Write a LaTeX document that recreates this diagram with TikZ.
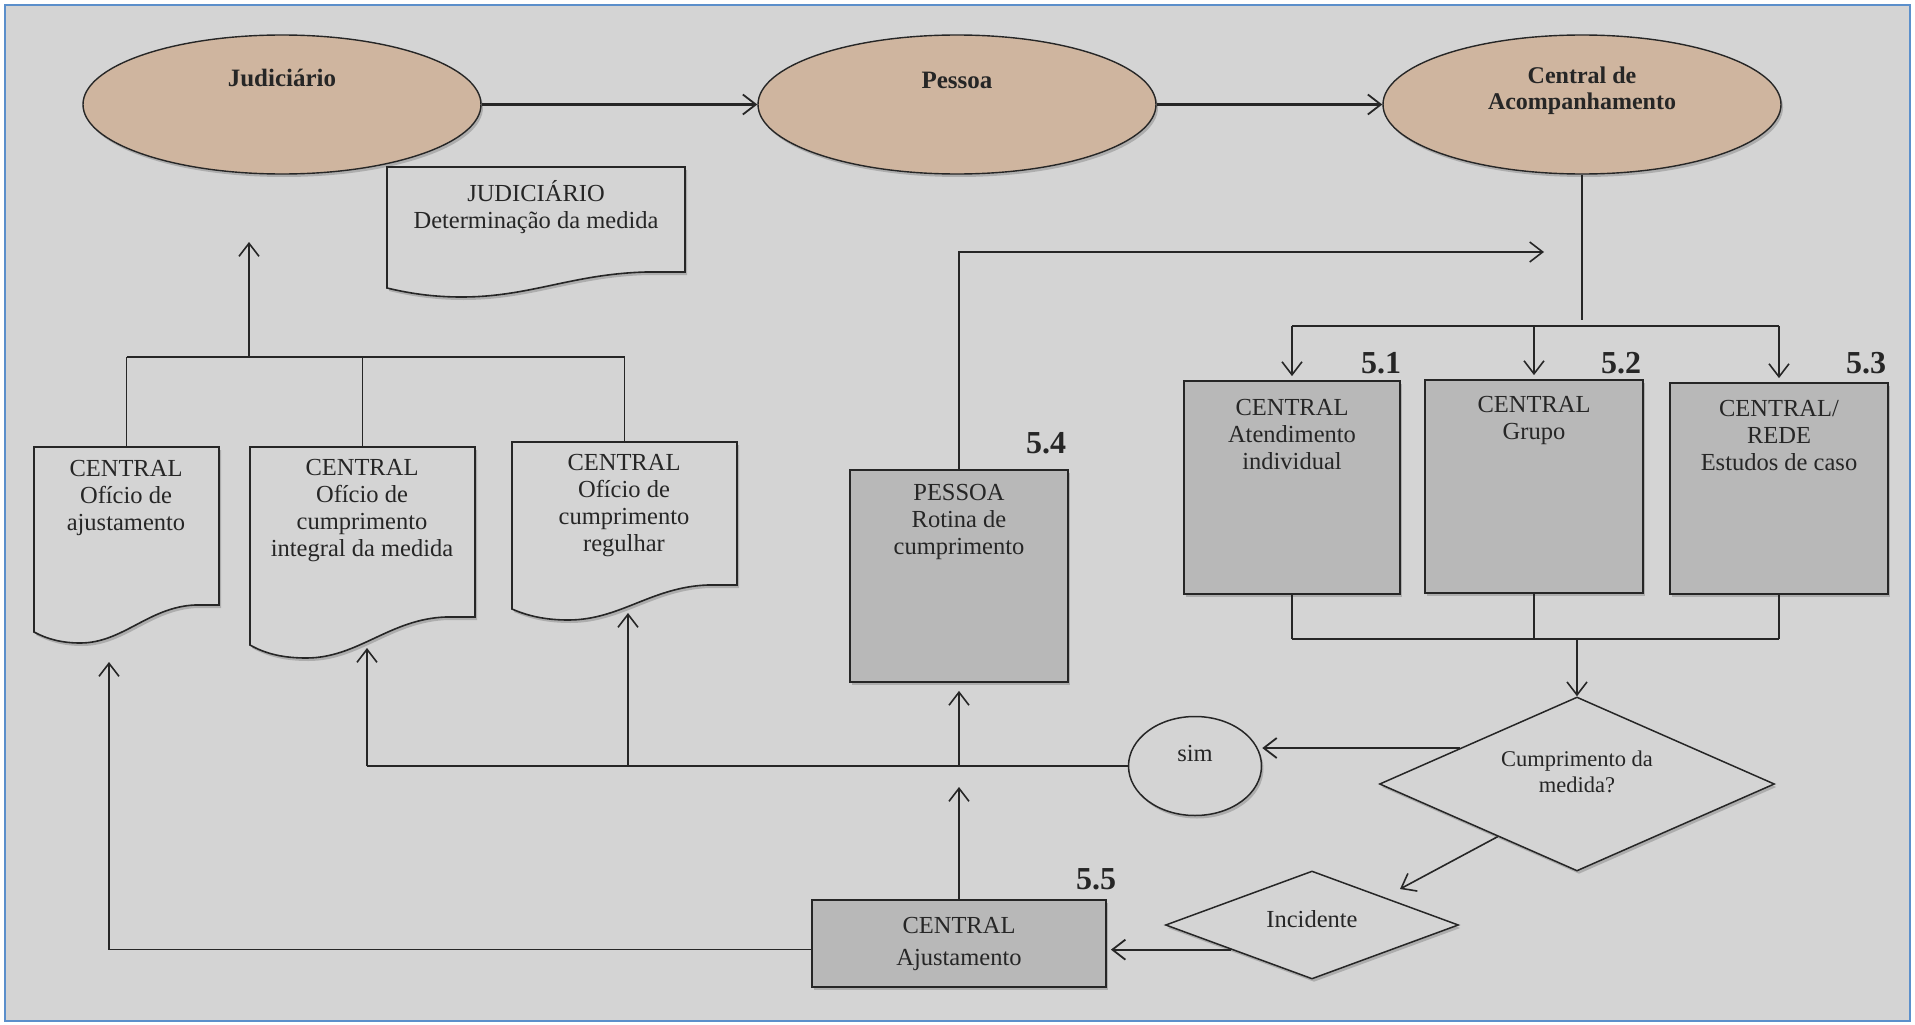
\documentclass[tikz,border=0pt]{standalone}
\usepackage{fontspec}
\setmainfont{Liberation Serif}
\usetikzlibrary{shapes.geometric,arrows.meta,shadows,calc}

\definecolor{panel}{HTML}{D4D4D4}
\definecolor{frameblue}{HTML}{5B8FCB}
\definecolor{tan}{HTML}{CFB59F}
\definecolor{boxgray}{HTML}{B8B8B8}
\definecolor{ink}{HTML}{262626}

\tikzset{
  softshadow/.style={drop shadow={shadow xshift=2pt, shadow yshift=-3pt, opacity=0.18, fill=black}},
  oval/.style={ellipse, draw=ink, line width=1.4pt, fill=tan, minimum width=398pt,
    minimum height=139pt, inner sep=0pt, softshadow},
  procbox/.style={rectangle, draw=ink, line width=1.8pt, fill=boxgray, inner sep=0pt, softshadow},
  docfill/.style={draw=ink, line width=1.6pt, fill=panel, softshadow},
  decision/.style={diamond, draw=ink, line width=1.5pt, fill=panel, inner sep=0pt, softshadow},
  roundnode/.style={ellipse, draw=ink, line width=1.5pt, fill=panel, inner sep=0pt,
    minimum width=133pt, minimum height=99pt, softshadow},
  txt/.style={font=\fontsize{24.5}{27}\selectfont, align=center, inner sep=0pt, text=ink},
  smalltxt/.style={font=\fontsize{22.5}{26}\selectfont, align=center, inner sep=0pt, text=ink},
  ttl/.style={font=\bfseries\fontsize{25}{26}\selectfont, align=center, inner sep=0pt, text=ink},
  numlbl/.style={font=\bfseries\fontsize{32}{32}\selectfont, inner sep=0pt, text=ink},
  conn/.style={draw=ink, line width=1.6pt},
  thinconn/.style={draw=ink, line width=1.2pt},
  arr/.style={conn, -{Straight Barb[length=13pt,width=20pt,line width=1.6pt]}},
  arrthick/.style={draw=ink, line width=2.4pt, -{Straight Barb[length=13pt,width=20pt,line width=1.8pt]}},
}

% document sheet with wavy bottom: name, left, top, right, right-bottom, left rise, dip
\newcommand{\docsheet}[7]{%
  \path[docfill] (#2,#3) -- (#4,#3) -- (#4,#5) -- ({#4-0.13*(#4-#2)},#5)
    .. controls ({#4-0.38*(#4-#2)},{#5+2}) and ({#2+0.48*(#4-#2)},{#5+#7}) .. ({#2+0.25*(#4-#2)},{#5+#7})
    .. controls ({#2+0.15*(#4-#2)},{#5+#7}) and ({#2+0.07*(#4-#2)},{#5+#7-4}) .. (#2,{#5+#6}) -- cycle;
  \coordinate (#1-top) at ({(#2+#4)/2},#3);
}

\begin{document}
\begin{tikzpicture}[x=1pt,y=-1pt]
\useasboundingbox (0,0) rectangle (1915,1025);
\fill[white] (0,0) rectangle (1915,1025);
\draw[frameblue, line width=2pt, fill=panel] (5,5) rectangle (1910,1021);

% actors
\node[oval] (jud) at (282,104.5) {};
\node[oval] (pes) at (957,104.5) {};
\node[oval] (cen) at (1582,104.5) {};
\node[ttl] (judt) at (282,78) {Judiciário};
\node[ttl] (pest) at (957,80) {Pessoa};
\node[ttl, font=\bfseries\fontsize{24}{26}\selectfont] (cent) at (1582,91) {Central de\\Acompanhamento};
\draw[arrthick] (jud) -- (pes);
\draw[arrthick] (pes) -- (cen);

% court decision document
\docsheet{jdoc}{387}{167}{685}{272}{16}{25}
\node[txt] (jdoct) at (536,207) {JUDICIÁRIO\\Determinação da medida};

% outgoing letters
\docsheet{d1}{34}{447}{219}{605}{27}{38}
\node[txt] (d1t) at (126,498) {CENTRAL\\Ofício de\\ajustamento};
\docsheet{d2}{250}{447}{475}{617}{28}{41}
\node[txt] (d2t) at (362,511) {CENTRAL\\Ofício de\\cumprimento\\integral da medida};
\docsheet{d3}{512}{442}{737}{585}{24}{35}
\node[txt] (d3t) at (624,506) {CENTRAL\\Ofício de\\cumprimento\\regulhar};

% letters back to the court
\coordinate (lbus) at (249,357);
\coordinate (ltip) at (249,242);
\draw[conn] (d1-top |- lbus) -- (d3-top |- lbus);
\draw[arr] (lbus) -- (ltip);
\draw[conn] (d1-top |- lbus) -- (d1-top);
\draw[conn] (d2-top |- lbus) -- (d2-top);
\draw[conn] (d3-top |- lbus) -- (d3-top);

% 5.4 person's routine
\node[procbox, minimum width=218pt, minimum height=212pt] (b54) at (959,576) {};
\node[txt] (b54t) at (959,522) {PESSOA\\Rotina de\\cumprimento};
\node[numlbl] (n54) at (1046,443) {5.4};
\coordinate (loopend) at (1544,252);
\draw[arr] (b54.north) |- (loopend);

% 5.1 -- 5.3 follow-up activities
\node[procbox, minimum width=216pt, minimum height=213pt] (b51) at (1292,487.5) {};
\node[procbox, minimum width=218pt, minimum height=213pt] (b52) at (1534,486.5) {};
\node[procbox, minimum width=218pt, minimum height=211pt] (b53) at (1779,488.5) {};
\node[txt] (b51t) at (1292,435) {CENTRAL\\Atendimento\\individual};
\node[txt] (b52t) at (1534,420.5) {CENTRAL\\Grupo};
\node[txt] (b53t) at (1779,436) {CENTRAL/\\REDE\\Estudos de caso};
\node[numlbl] (n51) at (1381,363) {5.1};
\node[numlbl] (n52) at (1621,363) {5.2};
\node[numlbl] (n53) at (1866,363) {5.3};

\coordinate (cstem) at (1582,320);
\coordinate (topbus) at (0,326);
\draw[thinconn] (cen.south) -- (cstem);
\draw[conn] (b51.north |- topbus) -- (b53.north |- topbus);
\draw[arr, shorten >=4pt] (b51.north |- topbus) -- (b51.north);
\draw[arr, shorten >=4pt] (b52.north |- topbus) -- (b52.north);
\draw[arr, shorten >=4pt] (b53.north |- topbus) -- (b53.north);

% decision
\node[decision, minimum width=395pt, minimum height=174pt] (cm) at (1577,784) {};
\node[smalltxt] (cmt) at (1577,772) {Cumprimento da\\medida?};

\coordinate (botbus) at (0,639);
\draw[thinconn] (b51.south) -- (b51.south |- botbus);
\draw[thinconn] (b52.south) -- (b52.south |- botbus);
\draw[thinconn] (b53.south) -- (b53.south |- botbus);
\draw[conn] (b51.south |- botbus) -- (b53.south |- botbus);
\draw[arr] (cm.north |- botbus) -- (cm.north);

% yes branch
\node[roundnode] (sim) at (1195,766) {};
\node[txt] (simt) at (1195,754) {sim};
\coordinate (cmL) at ($(cm.west)!0.41!(cm.north)$);
\draw[arrthick, line width=2pt] (cmL) -- (sim.east |- cmL);

\coordinate (d2in) at (367,648);
\coordinate (d3in) at (628,613);
\draw[conn] (sim.west) -- (d2in |- sim.west);
\draw[arr] (d2in |- sim.west) -- (d2in);
\draw[arr] (d3in |- sim.west) -- (d3in);
\draw[arr, shorten >=8pt] (b54.south |- sim.west) -- (b54.south);

% incident branch
\node[decision, minimum width=293pt, minimum height=108pt] (inc) at (1312,925) {};
\node[txt] (inct) at (1312,919) {Incidente};
\coordinate (cmSW) at ($(cm.west)!0.6!(cm.south)$);
\coordinate (incin) at (1400,889);
\draw[arr] (cmSW) -- (incin);

% 5.5 adjustment
\node[procbox, minimum width=294pt, minimum height=87pt] (b55) at (959,943.5) {};
\node[txt] (b55t) at (959,943.5) {CENTRAL\\[5pt]Ajustamento};
\node[numlbl] (n55) at (1096,879) {5.5};
\coordinate (incSW) at ($(inc.west)!0.45!(inc.south)$);
\draw[arrthick, line width=2pt, shorten >=4pt] (incSW) -- (b55.east |- incSW);
\coordinate (up55) at (959,787);
\draw[arr] (b55.north) -- (up55);
\coordinate (d1in) at (109,662);
\draw[conn, -{Straight Barb[length=13pt,width=20pt,line width=1.6pt]}] (b55.west |- incSW) -| (d1in);
\end{tikzpicture}
\end{document}
